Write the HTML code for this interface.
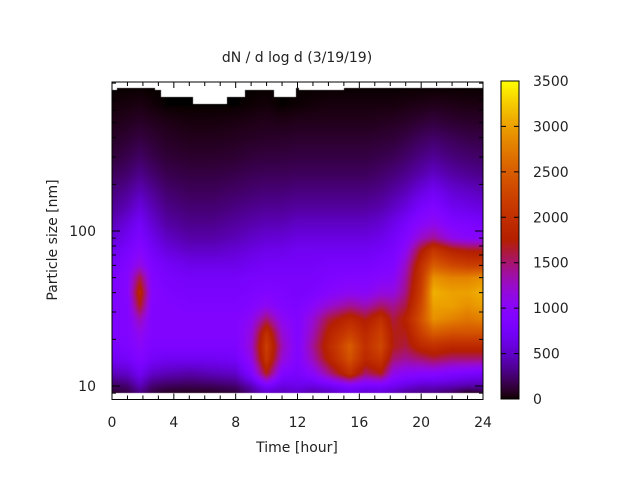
<!DOCTYPE html>
<html><head><meta charset="utf-8">
<style>
html,body{margin:0;padding:0;background:#fff;}
#wrap{position:relative;width:640px;height:480px;overflow:hidden;font-family:"DejaVu Sans","Liberation Sans",sans-serif;}
canvas,svg{position:absolute;left:0;top:0;}
text{font-family:"DejaVu Sans","Liberation Sans",sans-serif;font-size:14px;fill:#222;}
</style></head>
<body>
<div id="wrap">
<canvas id="cv" width="640" height="480"></canvas>
<svg id="sv" width="640" height="480"></svg>
</div>
<script>
// ---- data ----
const times = [0,1,1.8,2.6,3.5,5,6.5,8,9,10,11,12,13,14,15.4,16.4,17.4,18.2,19,20,20.8,22,23,24];
const sizes = [9,10,12,15,18,22,27,33,40,50,60,75,90,110,140,180,230,300,400,500,650,850];
const row9   = [100,150,300,150,80,70,80,120,300,500,450,500,400,450,600,500,550,450,350,300,300,200,60,100];
const row10  = [200,250,450,250,200,180,200,250,450,800,600,650,600,700,900,800,800,700,600,500,500,450,400,400];
const row12  = [450,500,700,500,450,400,450,500,850,1700,900,800,1000,1400,2000,1500,1700,1100,1000,950,950,850,800,750];
const row15  = [700,750,900,750,700,700,700,750,1100,2100,1200,900,1300,1800,2400,1900,2100,1500,1400,1500,1600,1500,1500,1500];
const row18  = [800,850,1000,850,850,850,850,850,1200,2200,1300,900,1400,1900,2500,2000,2300,1700,1600,1900,2000,1900,1900,1900];
const row22  = [850,900,1100,900,900,900,900,900,1150,2000,1200,900,1300,1800,2200,1900,2200,1700,1700,2200,2500,2400,2400,2400];
const row27  = [850,900,1300,900,900,900,900,900,1050,1500,1050,900,1200,1600,1900,1700,2000,1600,1800,2400,2900,2800,2700,2800];
const row33  = [850,900,1700,900,900,850,850,850,900,1050,900,850,1000,1200,1400,1300,1500,1400,1600,2300,3000,3000,2900,3000];
const row40  = [850,950,1900,950,850,800,800,800,850,900,850,800,850,950,1050,1000,1150,1150,1450,2200,3100,3000,3000,3100];
const row50  = [800,950,1600,900,800,750,750,750,800,800,800,800,800,850,900,900,950,1000,1350,2100,2900,2800,2800,2900];
const row60  = [750,900,1150,850,750,650,650,650,700,750,750,750,750,800,800,800,850,900,1250,2000,2500,2300,2200,2200];
const row75  = [650,800,950,750,600,500,500,550,600,650,650,700,700,700,700,700,750,800,1050,1700,2100,1800,1700,1700];
const row90  = [550,700,850,650,500,400,400,450,500,550,550,600,600,600,600,600,650,750,900,1250,1400,1100,1000,1000];
const row110 = [450,600,750,550,400,330,330,380,420,450,450,500,500,500,500,500,550,650,800,1000,1100,900,850,800];
const row140 = [350,450,600,450,320,260,260,300,330,350,350,380,380,380,380,380,420,500,600,800,900,700,650,600];
const row180 = [280,350,450,350,250,200,200,230,250,270,270,290,290,290,290,290,320,380,450,600,700,550,500,450];
const row230 = [200,250,320,250,180,150,150,170,190,200,200,210,210,210,210,210,240,280,330,420,500,400,350,320];
const row300 = [130,170,220,170,120,100,100,110,130,140,140,150,150,150,150,150,170,190,230,300,350,280,250,230];
const row400 = [80,110,140,110,80,60,60,70,80,90,90,100,100,100,100,100,110,120,150,200,230,190,160,150];
const row500 = [50,70,90,70,50,30,30,40,50,60,50,60,60,60,60,60,70,80,90,120,140,110,100,90];
const row650 = [20,30,40,20,0,0,0,0,10,20,0,10,20,30,30,30,30,30,40,50,60,50,40,40];
const row850 = [0,0,0,0,0,0,0,0,0,0,0,0,0,0,0,0,0,0,0,0,0,0,0,0];
const grid = [row9,row10,row12,row15,row18,row22,row27,row33,row40,row50,row60,row75,row90,row110,row140,row180,row230,row300,row400,row500,row650,row850];
// upper limit of measured size per time segment
const topTimes = [0,0.3,2.8,3.2,5.25,7.45,8.6,10.5,11.9,12.1,15,24];
const topSizes = [812,841,812,735,660,735,812,735,841,812,841];
const xTicks = [0,4,8,12,16,20,24];
const yMajor = [10,100];
const yMinor = [9,20,30,40,50,60,70,80,90,200,300,400,500,600,700,800,900];
const cbTicks = [0,500,1000,1500,2000,2500,3000,3500];
const cbMax = 3500;

// ---- axes ----
const X0=112, X1=483, YT=82, YB=399.5;
const xS = t => X0 + (X1-X0)*t/24;
const yS = s => 386 - 155*(Math.log10(s)-1);
const CBX=501, CBW=18, CBT=81, CBB=399;
const cbY = v => CBB - (CBB-CBT)*v/cbMax;

function pal(x){
  x=Math.max(0,Math.min(1,x));
  return [Math.sqrt(x)*255, x*x*x*255, Math.max(0,Math.sin(2*Math.PI*x))*255];
}
function topAt(t){
  for(let i=0;i<topSizes.length;i++) if(t>=topTimes[i] && t<=topTimes[i+1]) return topSizes[i];
  return topSizes[topSizes.length-1];
}
function valAt(t,ls){
  let i=0; while(i<times.length-2 && t>times[i+1]) i++;
  let ft=(t-times[i])/(times[i+1]-times[i]); ft=Math.max(0,Math.min(1,ft));
  const L=sizes.map(Math.log10);
  let j=0; while(j<L.length-2 && ls>L[j+1]) j++;
  let fs=(ls-L[j])/(L[j+1]-L[j]); fs=Math.max(0,Math.min(1,fs));
  const a=grid[j][i]*(1-ft)+grid[j][i+1]*ft;
  const b=grid[j+1][i]*(1-ft)+grid[j+1][i+1]*ft;
  return a*(1-fs)+b*fs;
}
const cv=document.getElementById('cv'); const ctx=cv.getContext('2d');
const img=ctx.createImageData(640,480);
const yBot=yS(sizes[0]);
for(let px=X0;px<X1;px++){
  const t=(px+0.5-X0)/(X1-X0)*24;
  const top=yS(topAt(t));
  for(let py=Math.round(top);py<Math.round(yBot);py++){
    const ls=1+(386-(py+0.5))/155;
    const c=pal(valAt(t,ls)/cbMax);
    const k=(py*640+px)*4;
    img.data[k]=c[0];img.data[k+1]=c[1];img.data[k+2]=c[2];img.data[k+3]=255;
  }
}
for(let py=CBT;py<CBB;py++){
  const c=pal((CBB-py-0.5)/(CBB-CBT));
  for(let px=CBX;px<CBX+CBW;px++){
    const k=(py*640+px)*4;
    img.data[k]=c[0];img.data[k+1]=c[1];img.data[k+2]=c[2];img.data[k+3]=255;
  }
}
ctx.putImageData(img,0,0);

const NS='http://www.w3.org/2000/svg';
const sv=document.getElementById('sv');
function mk(tag,attrs,txt){const e=document.createElementNS(NS,tag);for(const k in attrs)e.setAttribute(k,attrs[k]);if(txt!==undefined)e.textContent=txt;sv.appendChild(e);return e;}
let e;
e=mk('rect',{x:X0,y:YT,width:X1-X0,height:YB-YT,fill:'none',stroke:'#000','stroke-width':1});


for(let h=0;h<=24;h++){
  const x=xS(h); const len=xTicks.includes(h)?6:4;
  e=mk('path',{d:`M${x},${YB}v${-len}M${x},${YT}v${len}`,stroke:'#000','stroke-width':1});
  
  
}
xTicks.forEach(h=>{
  e=mk('text',{x:xS(h),y:427,'text-anchor':'middle'},String(h));
  
  
});
yMajor.forEach(s=>{
  const y=yS(s);
  e=mk('path',{d:`M${X0},${y}h8M${X1},${y}h-8`,stroke:'#000','stroke-width':1});
  
  
  e=mk('text',{x:96,y:y+5,'text-anchor':'end'},String(s));
  
  
});
yMinor.forEach(s=>{
  const y=yS(s);
  e=mk('path',{d:`M${X0},${y}h4M${X1},${y}h-4`,stroke:'#000','stroke-width':1});
  
  
});
e=mk('rect',{x:CBX,y:CBT,width:CBW,height:CBB-CBT,fill:'none',stroke:'#000','stroke-width':1});


cbTicks.forEach(v=>{
  const y=cbY(v);
  e=mk('path',{d:`M${CBX},${y}h5M${CBX+CBW},${y}h-5`,stroke:'#000','stroke-width':1});
  
  
  e=mk('text',{x:533,y:y+5},String(v));
  
  
});
e=mk('text',{x:297,y:62,'text-anchor':'middle'},'dN / d log d (3/19/19)');


e=mk('text',{x:297,y:452,'text-anchor':'middle'},'Time [hour]');


e=mk('text',{x:0,y:0,'text-anchor':'middle',transform:'translate(57,240) rotate(-90)'},'Particle size [nm]');


</script>
</body></html>
